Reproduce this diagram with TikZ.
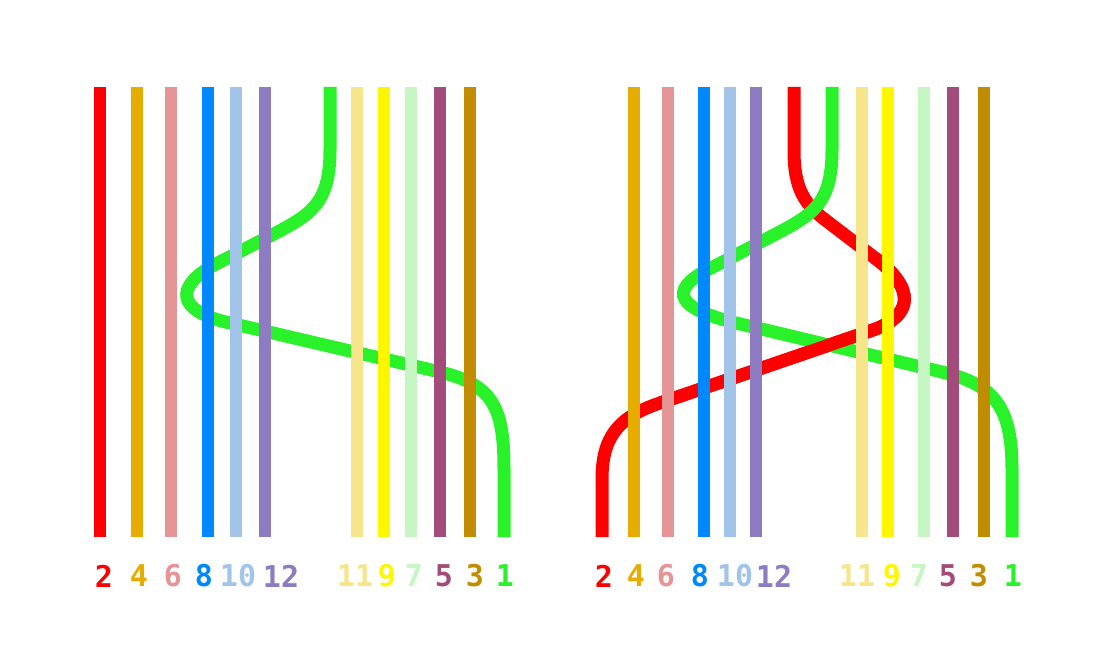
\documentclass[tikz,border=0pt]{standalone}
\usepackage{fontspec}
\newfontfamily\labfont{DejaVu Sans Mono}
\definecolor{cRed}{HTML}{FF0000}
\definecolor{cOrange}{HTML}{E6AC00}
\definecolor{cPink}{HTML}{E59595}
\definecolor{cBlue}{HTML}{0088FF}
\definecolor{cLBlue}{HTML}{A2C4E8}
\definecolor{cPurple}{HTML}{8E7CC3}
\definecolor{cGreen}{HTML}{2AF22A}
\definecolor{cLYellow}{HTML}{F6E58A}
\definecolor{cYellow}{HTML}{FFF700}
\definecolor{cLGreen}{HTML}{C6F7C2}
\definecolor{cMaroon}{HTML}{A34B7A}
\definecolor{cBrown}{HTML}{C08C00}
\begin{document}
\begin{tikzpicture}[x=1pt,y=-1pt,
  strand/.style={line width=12pt},
  wire/.style={line width=13pt},
  lab/.style={inner sep=0pt,font=\labfont\bfseries\fontsize{30}{30}\selectfont}]
\useasboundingbox[fill=white] (0,0) rectangle (1102,650);

% ---------- left panel ----------
\draw[wire,cGreen] (330,87) -- (330,150) .. controls (330,205) and (310,215) .. (270,236)
  -- (215,264.5) .. controls (175,286) and (175,311) .. (230,323)
  -- (440,372) .. controls (495,385) and (504,410) .. (504,470) -- (504,537);
\foreach \x/\c in {100/cRed,137/cOrange,171/cPink,208/cBlue,236/cLBlue,265/cPurple,
                   357/cLYellow,384/cYellow,411/cLGreen,440/cMaroon,470/cBrown}
  \draw[strand,\c] (\x,87) -- (\x,537);
\foreach \x/\t/\c [count=\i] in {104/2/cRed,139/4/cOrange,173/6/cPink,204/8/cBlue,238/10/cLBlue,281/12/cPurple,
                   355/11/cLYellow,387/9/cYellow,414/7/cLGreen,444/5/cMaroon,475/3/cBrown,505/1/cGreen}
  \node[lab,text=\c] (L\i) at (\x,576) {\t};

% ---------- right panel ----------
\draw[wire,cRed] (794,87) -- (794,150) .. controls (794,190) and (805,205) .. (828,222) -- (875,258)
  .. controls (915,288) and (915,316) .. (870,331) -- (660,403)
  .. controls (615,418) and (602,440) .. (602,480) -- (602,537);
\draw[wire,cGreen] (832,87) -- (832,150) .. controls (832,205) and (812,215) .. (772,236)
  -- (717,265) .. controls (670,287) and (670,306) .. (732,322)
  -- (942,372) .. controls (997,385) and (1012,410) .. (1012,470) -- (1012,537);
\draw[wire,cRed] (875,258) .. controls (915,288) and (915,316) .. (870,331) -- (660,403);
\foreach \x/\c in {634/cOrange,668/cPink,704/cBlue,730/cLBlue,756/cPurple,
                   862/cLYellow,888/cYellow,924/cLGreen,953/cMaroon,984/cBrown}
  \draw[strand,\c] (\x,87) -- (\x,537);
\foreach \x/\t/\c [count=\i] in {604/2/cRed,636/4/cOrange,666/6/cPink,700/8/cBlue,735/10/cLBlue,774/12/cPurple,
                   857/11/cLYellow,892/9/cYellow,919/7/cLGreen,948/5/cMaroon,979/3/cBrown,1013/1/cGreen}
  \node[lab,text=\c] (R\i) at (\x,576) {\t};
\end{tikzpicture}
\end{document}
